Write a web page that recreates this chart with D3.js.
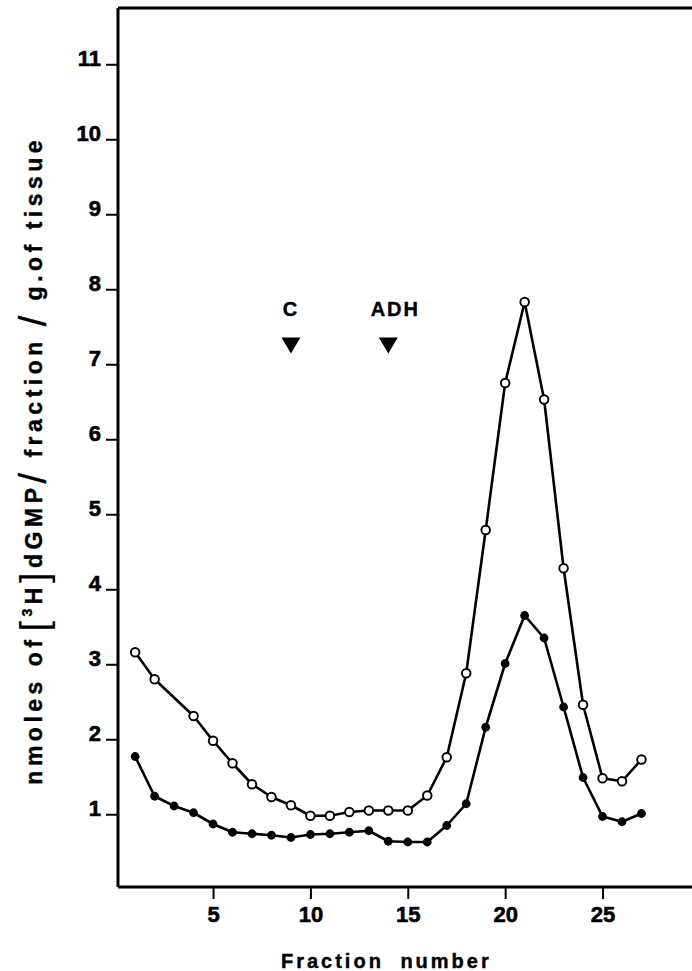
<!DOCTYPE html>
<html>
<head>
<meta charset="utf-8">
<script src="https://cdn.jsdelivr.net/npm/d3@7"></script>
<style>
  html, body { margin: 0; padding: 0; background: #fff; }
  svg { display: block; font-family: "Liberation Sans", Arial, sans-serif; }
</style>
</head>
<body>
<div id="chart"></div>
<script>
"use strict";

/* ── Data ── */
const fractions  = d3.range(1, 28);
// open circles (fraction 3 was not plotted)
const openFractions = [1, 2, 4, 5, 6, 7, 8, 9, 10, 11, 12, 13, 14, 15, 16, 17, 18, 19, 20, 21, 22, 23, 24, 25, 26, 27];
const openValues    = [3.16, 2.80, 2.31, 1.98, 1.68, 1.40, 1.23, 1.12, 0.98, 0.98, 1.03, 1.05, 1.05, 1.05,
                       1.25, 1.76, 2.88, 4.79, 6.75, 7.83, 6.53, 4.28, 2.46, 1.48, 1.44, 1.73];
// filled circles
const filledValues  = [1.77, 1.24, 1.11, 1.02, 0.87, 0.76, 0.74, 0.72, 0.69, 0.73, 0.74, 0.76, 0.78, 0.64,
                       0.63, 0.63, 0.85, 1.14, 2.16, 3.01, 3.65, 3.35, 2.43, 1.49, 0.97, 0.90, 1.01];

const yTicks = [1, 2, 3, 4, 5, 6, 7, 8, 9, 10, 11];
const xTicks = [5, 10, 15, 20, 25];

// marker proteins
const markerLabels    = ["C", "ADH"];
const markerFractions = [9, 14];
const markerLevel     = 7.25;

/* ── Layout ── */
const W = 692, H = 971;
const margin = { top: 8, right: 0, bottom: 84, left: 118 };
const width  = W - margin.left - margin.right;
const height = H - margin.top - margin.bottom;

const svg = d3.select("#chart").append("svg")
  .attr("width", W).attr("height", H);

const g = svg.append("g")
  .attr("transform", `translate(${margin.left},${margin.top})`);

const x = d3.scaleLinear().domain([0.12, 0.12 + width / 19.475]).range([0, width]);
const y = d3.scaleLinear().domain([0.03, 0.03 + height / 75]).range([height, 0]);

const tickFont = t => t
  .attr("font-size", "22px").attr("font-weight", "bold")
  .attr("font-family", "Liberation Sans, Arial, sans-serif")
  .attr("fill", "#000").attr("stroke", "#000").attr("stroke-width", 0.6);

/* ── Frame: top line, left axis, bottom axis ── */
g.append("line")
  .attr("x1", 0).attr("x2", width).attr("y1", 0).attr("y2", 0)
  .attr("stroke", "#000").attr("stroke-width", 3);

g.append("g")
  .call(d3.axisLeft(y).tickValues(yTicks).tickSize(12).tickPadding(5).tickFormat(d3.format("d")))
  .call(ax => {
    ax.select(".domain").attr("stroke-width", 3).attr("d", `M0,0V${height}`);
    ax.selectAll(".tick line").attr("stroke-width", 2);
    ax.selectAll(".tick text").attr("dy", "0.05em").call(tickFont);
  });

g.append("g")
  .attr("transform", `translate(0,${height})`)
  .call(d3.axisBottom(x).tickValues(xTicks).tickSize(12).tickFormat(d3.format("d")))
  .call(ax => {
    ax.select(".domain").attr("stroke-width", 3).attr("d", `M0,0H${width}`);
    ax.selectAll(".tick line").attr("stroke-width", 2);
    ax.selectAll(".tick text").attr("y", 35).attr("dy", 0).call(tickFont);
  });

/* ── Axis titles ── */
svg.append("text")
  .attr("x", margin.left + x(13.9)).attr("y", 968)
  .attr("text-anchor", "middle")
  .attr("font-size", "20px").attr("font-weight", "bold")
  .attr("stroke", "#000").attr("stroke-width", 0.4)
  .attr("letter-spacing", "3px").attr("word-spacing", "8px")
  .text("Fraction number");

const yt = svg.append("text")
  .attr("transform", `translate(42,${margin.top + y(5.72)}) rotate(-90)`)
  .attr("text-anchor", "middle")
  .attr("font-size", "23px").attr("font-weight", "bold")
  .attr("stroke", "#000").attr("stroke-width", 0.4)
  .attr("letter-spacing", "4.5px");
yt.append("tspan").text("nmoles of");
yt.append("tspan").attr("font-size", "38px").attr("font-weight", "normal").attr("stroke-width", 0).attr("dy", 5).attr("dx", 4).text("[");
yt.append("tspan").attr("font-size", "14px").attr("dy", -15).text("3");
yt.append("tspan").attr("dy", 10).text("H");
yt.append("tspan").attr("font-size", "38px").attr("font-weight", "normal").attr("stroke-width", 0).attr("dy", 5).text("]");
yt.append("tspan").attr("dy", -5).text("dGMP");
yt.append("tspan").attr("font-size", "38px").attr("font-weight", "normal").attr("dy", 4).text("/");
yt.append("tspan").attr("dy", -4).text(" fraction ");
yt.append("tspan").attr("font-size", "38px").attr("font-weight", "normal").attr("dy", 4).text("/");
yt.append("tspan").attr("dy", -4).text(" g.of tissue");

/* ── Series ── */
const line = d3.line().x(d => x(d[0])).y(d => y(d[1]));
const openData   = openFractions.map((f, i) => [f, openValues[i]]);
const filledData = fractions.map((f, i) => [f, filledValues[i]]);

[openData, filledData].forEach(data => {
  g.append("path")
    .datum(data)
    .attr("fill", "none")
    .attr("stroke", "#000")
    .attr("stroke-width", 2.6)
    .attr("stroke-linejoin", "round")
    .attr("d", line);
});

g.selectAll(".pt-filled")
  .data(filledData)
  .join("circle")
  .attr("class", "pt-filled")
  .attr("cx", d => x(d[0])).attr("cy", d => y(d[1]))
  .attr("r", 4.4)
  .attr("fill", "#000");

g.selectAll(".pt-open")
  .data(openData)
  .join("circle")
  .attr("class", "pt-open")
  .attr("cx", d => x(d[0])).attr("cy", d => y(d[1]))
  .attr("r", 4.3)
  .attr("fill", "#fff")
  .attr("stroke", "#000")
  .attr("stroke-width", 1.9);

/* ── Marker proteins ── */
const markers = g.selectAll(".marker")
  .data(markerLabels.map((lab, i) => ({ lab, f: markerFractions[i] })))
  .join("g")
  .attr("class", "marker")
  .attr("transform", d => `translate(${x(d.f)},${y(markerLevel)})`);

markers.append("path")
  .attr("d", "M-9.5,-8L9.5,-8L0,8Z")
  .attr("fill", "#000");

markers.append("text")
  .attr("x", (d, i) => i === 1 ? 7 : 0)
  .attr("y", -30)
  .attr("text-anchor", "middle")
  .attr("font-size", "20px").attr("font-weight", "bold")
  .attr("stroke", "#000").attr("stroke-width", 0.4)
  .attr("letter-spacing", "2px")
  .text(d => d.lab);
</script>
</body>
</html>
